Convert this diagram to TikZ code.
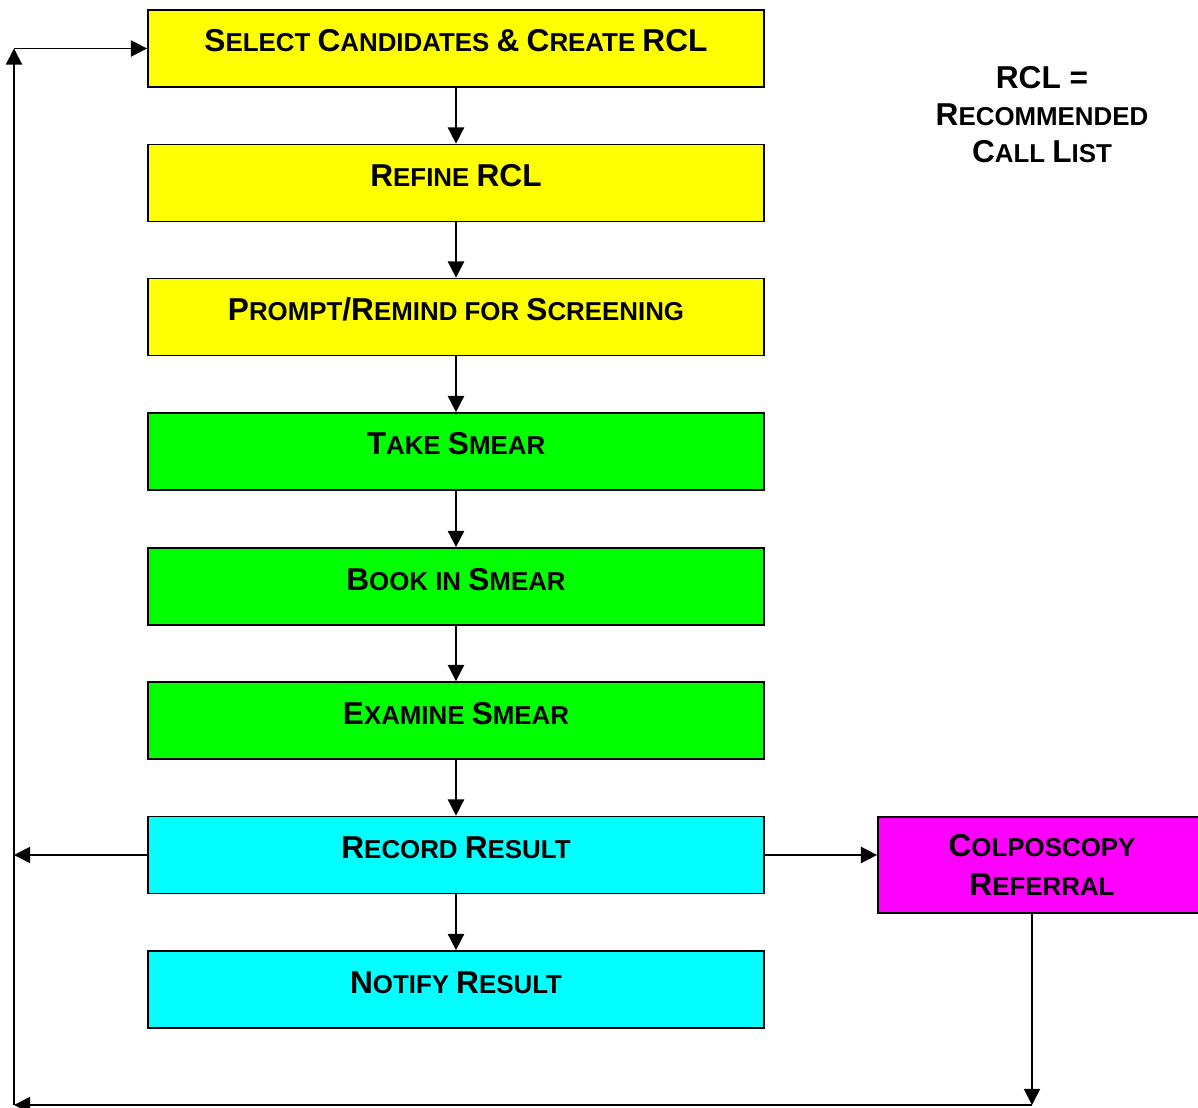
\documentclass[tikz,border=0pt]{standalone}
\usepackage{fontspec}
\setmainfont{Liberation Sans}
\usetikzlibrary{arrows.meta}
\definecolor{boxyellow}{RGB}{255,255,0}
\definecolor{boxgreen}{RGB}{0,255,0}
\definecolor{boxcyan}{RGB}{0,255,255}
\definecolor{boxmagenta}{RGB}{255,0,255}
\newcommand{\B}[1]{{\fontsize{22.5}{26}\selectfont #1}}

\begin{document}
\begin{tikzpicture}[x=0.025cm,y=-0.025cm,
    stage/.style={draw,line width=1.2pt,minimum width=15.4cm,minimum height=1.925cm,
      text height=0.575cm,text depth=0.4cm,font=\bfseries\fontsize{18.4}{22}\selectfont},
    arr/.style={line width=1.2pt,-{Triangle[length=11.5pt,width=11.5pt]}}]
    \useasboundingbox (0,0) rectangle (1198,1108) ;
    %% the main column
    \node[stage,fill=boxyellow] (select) at (456,48.5) {\B{S}ELECT \B{C}ANDIDATES \B{\&} \B{C}REATE \B{RCL}} ;
    \node[stage,fill=boxyellow] (refine) at (456,183) {\B{R}EFINE \B{RCL}} ;
    \node[stage,fill=boxyellow] (prompt) at (456,317) {\B{P}ROMPT\B{/R}EMIND FOR \B{S}CREENING} ;
    \node[stage,fill=boxgreen] (take) at (456,451.5) {\B{T}AKE \B{S}MEAR} ;
    \node[stage,fill=boxgreen] (book) at (456,586.5) {\B{B}OOK IN \B{S}MEAR} ;
    \node[stage,fill=boxgreen] (examine) at (456,720.5) {\B{E}XAMINE \B{S}MEAR} ;
    \node[stage,fill=boxcyan] (record) at (456,855) {\B{R}ECORD \B{R}ESULT} ;
    \node[stage,fill=boxcyan] (notify) at (456,989.5) {\B{N}OTIFY \B{R}ESULT} ;
    %% side boxes
    \node[draw,fill=boxmagenta,line width=1.2pt,minimum width=8.2cm,minimum height=2.4cm,align=center,
      font=\bfseries\fontsize{18.4}{27.6}\selectfont] (colpo) at (1042,865)
      {\B{C}OLPOSCOPY\\\B{R}EFERRAL} ;
    \node[align=center,font=\bfseries\fontsize{18.4}{26.3}\selectfont] (rcl) at (1042,115)
      {\B{RCL =}\\\B{R}ECOMMENDED\\\B{C}ALL \B{L}IST} ;
    %% corners of the loop
    \coordinate (tl) at (14,48.5) ;
    \coordinate (bl) at (14,1105) ;
    \coordinate (br) at (1032,1105) ;
    \coordinate (left) at (14,855) ;
    %% arrows
    \draw[arr] (select) -- (refine) ;
    \draw[arr] (refine) -- (prompt) ;
    \draw[arr] (prompt) -- (take) ;
    \draw[arr] (take) -- (book) ;
    \draw[arr] (book) -- (examine) ;
    \draw[arr] (examine) -- (record) ;
    \draw[arr] (record) -- (notify) ;
    \draw[arr] (record) -- (colpo.west |- record) ;
    \draw[arr] (record) -- (left) ;
    \draw[arr] (br |- colpo.south) -- (br) ;
    \draw[arr] (br) -- (bl) ;
    \draw[arr] (bl) -- (tl) ;
    \draw[arr] (tl) -- (select) ;
\end{tikzpicture}
\end{document}
